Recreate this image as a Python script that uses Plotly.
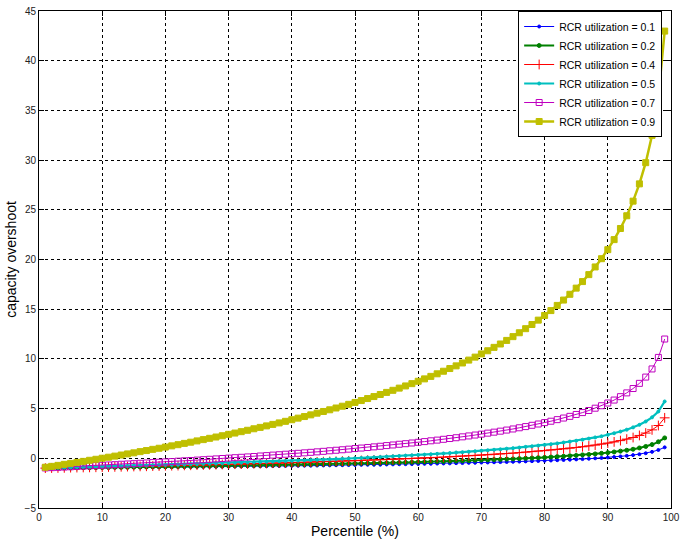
import plotly.graph_objs as go

# percentile axis, 1..99
PCT = list(range(1, 100))

# capacity overshoot, one list per RCR utilization
U01 = [
    -1.00, -0.99, -0.99, -0.98, -0.98, -0.97, -0.97, -0.96, -0.96, -0.95,
    -0.95, -0.94, -0.93, -0.93, -0.92, -0.92, -0.91, -0.91, -0.90, -0.90,
    -0.89, -0.88, -0.88, -0.87, -0.86, -0.86, -0.85, -0.85, -0.84, -0.83,
    -0.83, -0.82, -0.81, -0.80, -0.80, -0.79, -0.78, -0.78, -0.77, -0.76,
    -0.75, -0.74, -0.74, -0.73, -0.72, -0.71, -0.70, -0.69, -0.68, -0.67,
    -0.66, -0.65, -0.65, -0.64, -0.62, -0.61, -0.60, -0.59, -0.58, -0.57,
    -0.56, -0.55, -0.53, -0.52, -0.51, -0.49, -0.48, -0.46, -0.45, -0.43,
    -0.42, -0.40, -0.38, -0.37, -0.35, -0.33, -0.31, -0.29, -0.27, -0.24,
    -0.22, -0.19, -0.17, -0.14, -0.11, -0.08, -0.04, 0.00, 0.04, 0.08,
    0.13, 0.19, 0.25, 0.32, 0.41, 0.51, 0.65, 0.84, 1.10,
]
U02 = [
    -0.99, -0.99, -0.98, -0.97, -0.97, -0.96, -0.95, -0.94, -0.94, -0.93,
    -0.92, -0.91, -0.91, -0.90, -0.89, -0.88, -0.87, -0.86, -0.86, -0.85,
    -0.84, -0.83, -0.82, -0.81, -0.80, -0.80, -0.79, -0.78, -0.77, -0.76,
    -0.75, -0.74, -0.73, -0.72, -0.71, -0.70, -0.69, -0.67, -0.66, -0.65,
    -0.64, -0.63, -0.62, -0.61, -0.59, -0.58, -0.57, -0.56, -0.54, -0.53,
    -0.51, -0.50, -0.49, -0.47, -0.46, -0.44, -0.43, -0.41, -0.39, -0.38,
    -0.36, -0.34, -0.32, -0.31, -0.29, -0.27, -0.25, -0.23, -0.20, -0.18,
    -0.16, -0.13, -0.11, -0.08, -0.06, -0.03, 0.00, 0.03, 0.06, 0.09,
    0.13, 0.17, 0.20, 0.25, 0.29, 0.34, 0.39, 0.44, 0.50, 0.57,
    0.64, 0.72, 0.81, 0.91, 1.04, 1.19, 1.38, 1.66, 2.05,
]
U04 = [
    -0.99, -0.98, -0.97, -0.96, -0.94, -0.93, -0.92, -0.91, -0.90, -0.88,
    -0.87, -0.86, -0.85, -0.83, -0.82, -0.81, -0.80, -0.78, -0.77, -0.75,
    -0.74, -0.73, -0.71, -0.70, -0.68, -0.67, -0.65, -0.64, -0.62, -0.61,
    -0.59, -0.58, -0.56, -0.54, -0.53, -0.51, -0.49, -0.47, -0.46, -0.44,
    -0.42, -0.40, -0.38, -0.36, -0.34, -0.32, -0.30, -0.28, -0.26, -0.24,
    -0.22, -0.19, -0.17, -0.15, -0.12, -0.10, -0.07, -0.05, -0.02, 0.01,
    0.04, 0.06, 0.09, 0.12, 0.15, 0.19, 0.22, 0.25, 0.29, 0.32,
    0.36, 0.40, 0.44, 0.48, 0.52, 0.57, 0.62, 0.67, 0.72, 0.77,
    0.83, 0.89, 0.95, 1.02, 1.09, 1.16, 1.24, 1.33, 1.43, 1.53,
    1.65, 1.78, 1.93, 2.09, 2.30, 2.54, 2.86, 3.30, 4.07,
]
U05 = [
    -0.99, -0.97, -0.96, -0.94, -0.93, -0.91, -0.89, -0.88, -0.86, -0.85,
    -0.83, -0.81, -0.80, -0.78, -0.76, -0.75, -0.73, -0.71, -0.69, -0.67,
    -0.66, -0.64, -0.62, -0.60, -0.58, -0.56, -0.54, -0.52, -0.50, -0.48,
    -0.46, -0.44, -0.42, -0.39, -0.37, -0.35, -0.33, -0.30, -0.28, -0.25,
    -0.23, -0.20, -0.18, -0.15, -0.13, -0.10, -0.07, -0.05, -0.02, 0.01,
    0.04, 0.07, 0.10, 0.13, 0.17, 0.20, 0.23, 0.27, 0.30, 0.34,
    0.37, 0.41, 0.45, 0.49, 0.53, 0.58, 0.62, 0.66, 0.71, 0.76,
    0.81, 0.86, 0.91, 0.97, 1.02, 1.08, 1.15, 1.21, 1.28, 1.35,
    1.42, 1.50, 1.59, 1.68, 1.77, 1.87, 1.98, 2.10, 2.22, 2.36,
    2.52, 2.69, 2.88, 3.11, 3.37, 3.70, 4.12, 4.71, 5.72,
]
U07 = [
    -0.97, -0.94, -0.91, -0.88, -0.85, -0.82, -0.79, -0.76, -0.73, -0.70,
    -0.67, -0.64, -0.60, -0.57, -0.54, -0.50, -0.47, -0.43, -0.40, -0.36,
    -0.33, -0.29, -0.25, -0.22, -0.18, -0.14, -0.10, -0.06, -0.02, 0.02,
    0.06, 0.10, 0.14, 0.18, 0.23, 0.27, 0.32, 0.36, 0.41, 0.46,
    0.50, 0.55, 0.60, 0.65, 0.70, 0.76, 0.81, 0.86, 0.92, 0.98,
    1.03, 1.09, 1.15, 1.21, 1.28, 1.34, 1.41, 1.47, 1.54, 1.61,
    1.68, 1.76, 1.83, 1.91, 1.99, 2.07, 2.16, 2.25, 2.34, 2.43,
    2.53, 2.63, 2.73, 2.84, 2.95, 3.07, 3.19, 3.32, 3.45, 3.59,
    3.73, 3.89, 4.05, 4.22, 4.41, 4.60, 4.81, 5.04, 5.29, 5.56,
    5.86, 6.20, 6.58, 7.02, 7.54, 8.17, 8.99, 10.15, 12.00,
]
U09 = [
    -0.90, -0.81, -0.71, -0.61, -0.51, -0.41, -0.31, -0.20, -0.10, 0.01,
    0.11, 0.22, 0.33, 0.44, 0.55, 0.67, 0.78, 0.90, 1.01, 1.13,
    1.25, 1.37, 1.50, 1.62, 1.75, 1.88, 2.01, 2.14, 2.27, 2.41,
    2.54, 2.68, 2.82, 2.97, 3.11, 3.26, 3.41, 3.56, 3.72, 3.88,
    4.04, 4.20, 4.37, 4.54, 4.71, 4.88, 5.06, 5.24, 5.43, 5.62,
    5.81, 6.01, 6.21, 6.42, 6.63, 6.84, 7.06, 7.28, 7.51, 7.75,
    7.99, 8.24, 8.50, 8.76, 9.03, 9.30, 9.59, 9.88, 10.18, 10.50,
    10.82, 11.16, 11.50, 11.86, 12.24, 12.63, 13.04, 13.46, 13.90, 14.37,
    14.86, 15.38, 15.92, 16.50, 17.12, 17.78, 18.48, 19.25, 20.08, 20.99,
    22.00, 23.12, 24.40, 25.87, 27.61, 29.74, 32.49, 36.36, 42.98,
]

SERIES = [
    ("RCR utilization = 0.1", U01, "#0000ff", 1, "circle", 3),
    ("RCR utilization = 0.2", U02, "#008000", 2, "circle", 4),
    ("RCR utilization = 0.4", U04, "#ff0000", 1, "cross-thin", 7),
    ("RCR utilization = 0.5", U05, "#00bfbf", 2.2, "circle", 3),
    ("RCR utilization = 0.7", U07, "#bf00bf", 1, "square-open", 6),
    ("RCR utilization = 0.9", U09, "#bfbf00", 2.5, "square", 6),
]

fig = go.Figure()
for name, vals, color, lw, sym, size in SERIES:
    fig.add_trace(go.Scatter(
        x=PCT, y=vals, name=name, mode="lines+markers",
        line=dict(color=color, width=lw),
        marker=dict(symbol=sym, size=size, color=color,
                    line=dict(color=color, width=1)),
    ))

axis_style = dict(
    showline=True, linecolor="black", linewidth=1, mirror="ticks",
    ticks="inside", ticklen=5, tickcolor="black",
    showgrid=True, gridcolor="black", gridwidth=1, griddash="3px,3px",
    zeroline=False, tickfont=dict(size=10, color="#222"),
    ticklabeloverflow="allow",
)

fig.update_layout(
    width=685, height=543,
    plot_bgcolor="white", paper_bgcolor="white",
    font=dict(family="Liberation Sans, Arial, sans-serif", color="black"),
    margin=dict(l=39, r=6, t=5, b=35),
    xaxis=dict(range=[0, 100], dtick=10,
               title=dict(text="Percentile (%)", font=dict(size=14), standoff=2),
               **axis_style),
    yaxis=dict(range=[-5, 45], dtick=5,
               title=dict(text="capacity overshoot", font=dict(size=14), standoff=4),
               **axis_style),
    legend=dict(x=0.986, xanchor="right", y=1.0, yanchor="top",
                bgcolor="white", bordercolor="black", borderwidth=1,
                font=dict(size=10.5), tracegroupgap=0),
)

# page body has a default 8px margin; drop it so the figure sits at 0,0
fig.write_html("out.html", config={"displayModeBar": False},
               post_script="document.body.style.margin='0px';")
